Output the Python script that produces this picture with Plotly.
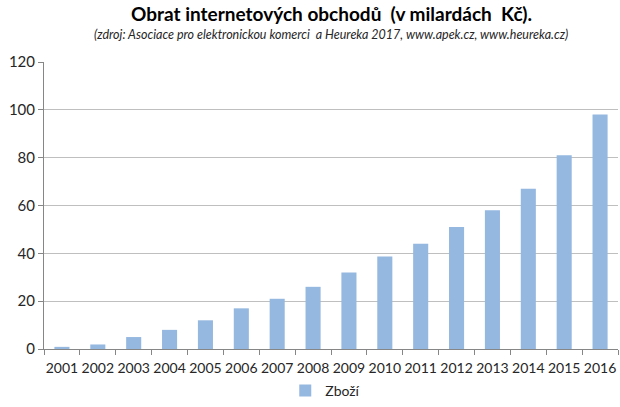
import plotly.graph_objects as go

roky = ['2001', '2002', '2003', '2004', '2005', '2006', '2007', '2008',
        '2009', '2010', '2011', '2012', '2013', '2014', '2015', '2016']
zbozi = [0.9, 1.9, 5, 8, 12, 17, 21, 26, 32, 38.7, 44, 51, 58, 67, 81, 98]

fig = go.Figure()

fig.add_trace(go.Bar(
    x=roky,
    y=zbozi,
    name='Zboží',
    marker=dict(color='#95b8e0', line=dict(width=0)),
))

fig.update_layout(
    width=620, height=407,
    margin=dict(l=44, r=2, t=62, b=58),
    paper_bgcolor='white',
    plot_bgcolor='white',
    bargap=0.58,
    font=dict(family='Lato, Carlito, sans-serif', color='#262626'),
    showlegend=True,
    legend=dict(orientation='h', x=0.49, xanchor='center',
                yref='container', y=-0.048, yanchor='bottom',
                font=dict(size=14, color='#262626')),
    annotations=[
        dict(text='<b>Obrat internetových obchodů  (v milardách  Kč).</b>',
             xref='paper', yref='paper', x=0.5, y=1.0, yanchor='bottom',
             yshift=35, showarrow=False, font=dict(size=19, color='#000000')),
        dict(text='<i>(zdroj: Asociace pro elektronickou komerci  a Heureka 2017, www.apek.cz, www.heureka.cz)</i>',
             xref='paper', yref='paper', x=0.5, y=1.0, yanchor='bottom',
             yshift=18, showarrow=False, font=dict(size=12.5, color='#262626')),
    ],
)

fig.update_xaxes(
    type='category', automargin=False,
    showline=True, linecolor='#868686', linewidth=1,
    ticks='outside', tickson='boundaries', ticklen=5, tickcolor='#868686',
    tickangle=0, ticklabelstandoff=6,
    tickfont=dict(size=14, color='#262626'),
)
fig.update_yaxes(
    range=[0, 120], dtick=20, automargin=False,
    showline=True, linecolor='#868686', linewidth=1,
    ticks='outside', ticklen=5, tickcolor='#868686',
    showgrid=True, gridcolor='#bfbfbf', gridwidth=1,
    zeroline=False,
    tickfont=dict(size=15, color='#262626'),
)

fig.write_html("out.html", config={'displayModeBar': False},
               post_script="document.body.style.margin='0';")
